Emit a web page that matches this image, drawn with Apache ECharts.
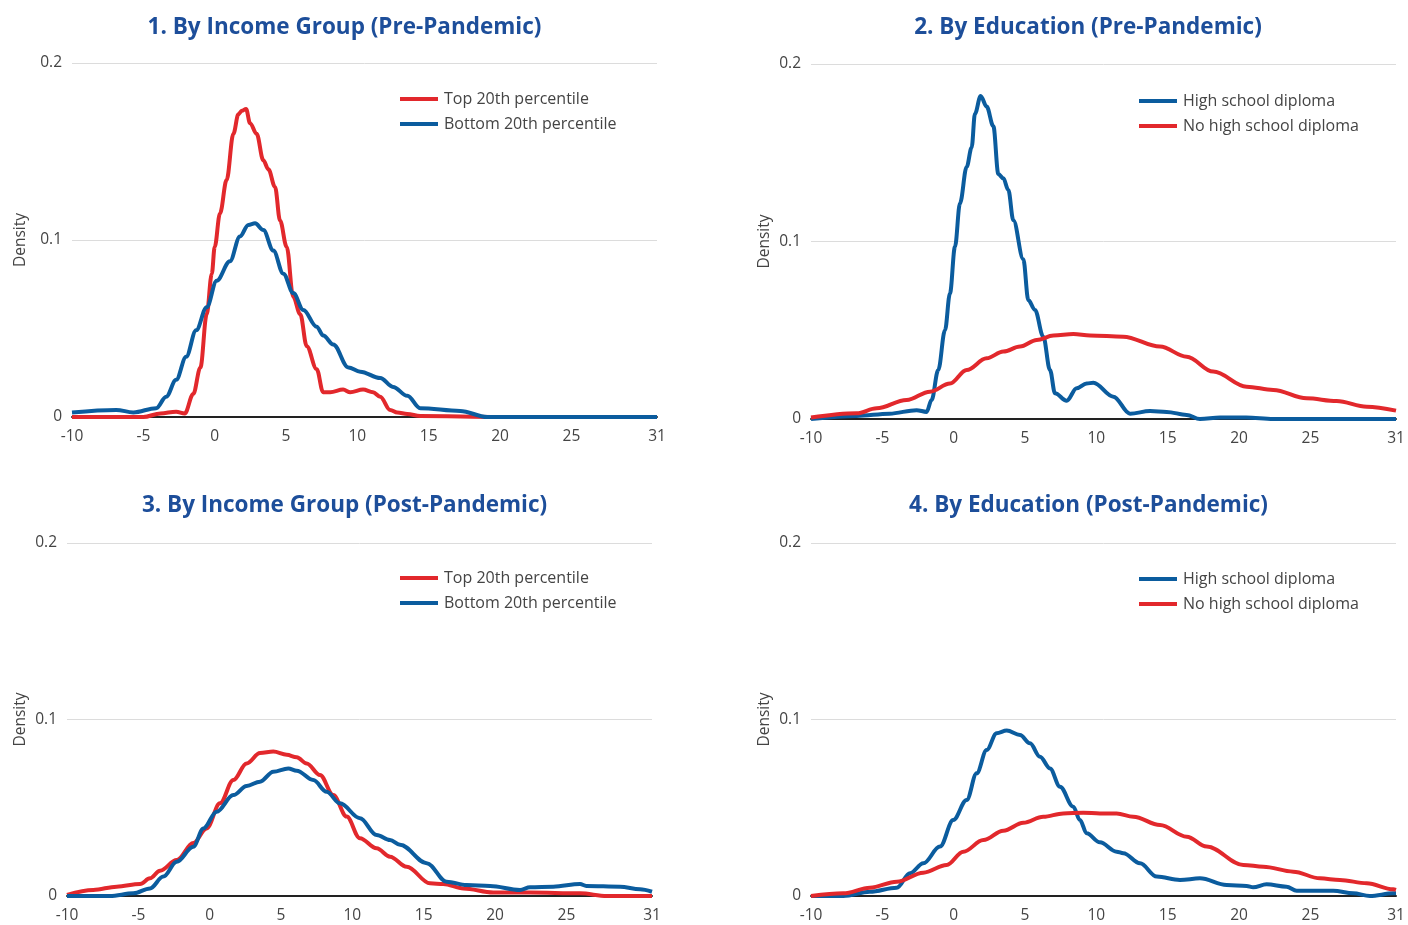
<!DOCTYPE html>
<html>
<head>
<meta charset="utf-8">
<script src="https://cdn.jsdelivr.net/npm/echarts@6/dist/echarts.min.js"></script>
<style>html,body{margin:0;padding:0;background:#fff;}#c{width:1408px;height:925px;}</style>
</head>
<body>
<div id="c"></div>
<script>
// ---------- DATA ----------
const titles = ['1. By Income Group (Pre-Pandemic)', '2. By Education (Pre-Pandemic)', '3. By Income Group (Post-Pandemic)', '4. By Education (Post-Pandemic)'];
const xTickLabels = [-10, -5, 0, 5, 10, 15, 20, 25, 31];
const yTicks = [0, 0.1, 0.2];
const incomeNames = ['Top 20th percentile', 'Bottom 20th percentile'];
const eduNames = ['High school diploma', 'No high school diploma'];

// Panel 1
const p1TopX = [-10, -5, -3.8, -2.7, -2.1, -1.5, -1.0, -0.56, -0.2, 0, 0.37, 0.84, 1.31, 1.66, 1.9, 2.2, 2.48, 2.94, 3.41, 3.76, 4.23, 4.58, 5.05, 5.5, 6.0, 6.45, 7.15, 7.6, 8.1, 9.0, 9.5, 10.4, 11.1, 11.6, 12.3, 12.8, 13.5, 14.4, 20, 31];
const p1TopY = [0, 0, 0.002, 0.003, 0.002, 0.013, 0.028, 0.058, 0.081, 0.096, 0.115, 0.134, 0.160, 0.171, 0.173, 0.174, 0.166, 0.160, 0.145, 0.140, 0.130, 0.111, 0.096, 0.068, 0.058, 0.040, 0.027, 0.014, 0.014, 0.0155, 0.014, 0.0155, 0.014, 0.0115, 0.004, 0.0025, 0.0017, 0.0005, 0, 0];
const p1BotX = [-10, -6.9, -5.7, -4.1, -3.4, -2.7, -2.0, -1.3, -0.56, 0.14, 1.07, 1.77, 2.36, 2.83, 3.41, 4.11, 4.81, 5.51, 6.21, 7.15, 7.61, 8.31, 9.37, 10.2, 11.6, 12.5, 13.5, 14.4, 17.2, 19.1, 20, 31];
const p1BotY = [0.0026, 0.004, 0.0026, 0.005, 0.0115, 0.021, 0.034, 0.049, 0.062, 0.077, 0.088, 0.102, 0.1085, 0.1094, 0.1056, 0.094, 0.081, 0.070, 0.0605, 0.051, 0.046, 0.041, 0.028, 0.0256, 0.022, 0.017, 0.012, 0.005, 0.0034, 0, 0, 0];

// Panel 2
const p2HsX = [-10, -6.8, -4.5, -2.6, -1.9, -1.55, -1.08, -0.61, -0.26, 0.09, 0.44, 0.91, 1.26, 1.49, 1.89, 2.31, 2.78, 3.13, 3.48, 3.83, 4.18, 4.88, 5.23, 5.7, 6.28, 6.75, 7.1, 7.92, 8.62, 9.32, 9.79, 11.19, 12.36, 13.76, 14.93, 16.33, 17.26, 18.67, 20.5, 22.4, 31];
const p2HsY = [0, 0.0017, 0.003, 0.005, 0.004, 0.0107, 0.0276, 0.050, 0.0708, 0.097, 0.1215, 0.142, 0.153, 0.172, 0.182, 0.176, 0.165, 0.138, 0.1356, 0.129, 0.112, 0.090, 0.067, 0.0614, 0.0464, 0.0276, 0.0145, 0.0103, 0.0173, 0.020, 0.0204, 0.0126, 0.003, 0.0045, 0.004, 0.0023, 0, 0.0008, 0.0008, 0, 0];
const p2NoX = [-10, -6.8, -5.4, -3.3, -1.66, -0.26, 0.91, 2.31, 3.48, 4.65, 5.82, 6.99, 8.39, 9.56, 11.88, 14.46, 16.33, 18.19, 20.53, 22.4, 24.74, 26.84, 28.95, 31];
const p2NoY = [0.0008, 0.0032, 0.006, 0.0107, 0.0154, 0.020, 0.0276, 0.0342, 0.038, 0.0408, 0.0445, 0.047, 0.0479, 0.047, 0.0464, 0.0408, 0.0351, 0.0267, 0.0182, 0.0164, 0.0117, 0.0101, 0.0069, 0.0047];

// Panel 3
const p3TopX = [-10, -8.16, -6.52, -4.88, -4.18, -3.48, -2.31, -1.15, -0.21, 0.72, 1.66, 2.59, 3.53, 4.46, 5.4, 6.1, 6.8, 7.73, 8.66, 9.6, 10.53, 11.7, 12.64, 13.81, 15.44, 16.37, 17.78, 19.88, 22.45, 25.96, 27.83, 31];
const p3TopY = [0.0006, 0.0034, 0.0053, 0.0068, 0.010, 0.0143, 0.0204, 0.030, 0.0383, 0.0525, 0.0657, 0.0751, 0.081, 0.0818, 0.080, 0.0786, 0.0751, 0.0686, 0.0572, 0.045, 0.0327, 0.027, 0.0223, 0.0166, 0.0072, 0.0068, 0.0043, 0.002, 0.002, 0.0015, 0, 0];
const p3BotX = [-10, -7, -5.35, -4.18, -3.25, -2.31, -1.15, -0.44, 0.49, 1.66, 2.59, 3.53, 4.46, 5.51, 6.1, 7.26, 8.2, 9.13, 10.53, 11.7, 12.64, 13.34, 15.21, 16.61, 18.01, 19.65, 21.75, 22.45, 24.08, 25.96, 26.4, 28.76, 30.16, 31];
const p3BotY = [0, 0, 0.0015, 0.0043, 0.011, 0.0194, 0.0279, 0.0383, 0.0478, 0.0572, 0.0623, 0.0648, 0.0704, 0.0723, 0.071, 0.0657, 0.059, 0.0525, 0.0441, 0.0346, 0.0317, 0.029, 0.0186, 0.0081, 0.0062, 0.0057, 0.0034, 0.0049, 0.0053, 0.0068, 0.0057, 0.0053, 0.0038, 0.0024];

// Panel 4
const p4HsX = [-10, -7.74, -5.87, -3.99, -3.06, -2.13, -0.96, -0.03, 0.91, 1.61, 2.31, 3.01, 3.72, 4.65, 5.35, 6.05, 6.75, 7.45, 8.38, 8.85, 9.32, 10.25, 11.42, 11.89, 13.06, 14.23, 15.86, 17.26, 19.13, 20.53, 20.99, 21.93, 23.33, 24.04, 26.6, 28.0, 29.17, 30.81, 31];
const p4HsY = [0, 0, 0.0024, 0.0047, 0.0129, 0.0185, 0.028, 0.043, 0.0544, 0.0695, 0.0827, 0.0922, 0.0937, 0.0912, 0.0865, 0.0789, 0.0723, 0.0619, 0.0506, 0.043, 0.0355, 0.0304, 0.0251, 0.0242, 0.0185, 0.011, 0.0091, 0.010, 0.0062, 0.0057, 0.0049, 0.0066, 0.0053, 0.003, 0.003, 0.0015, 0, 0.0015, 0.0015];
const p4NoX = [-10, -7.74, -5.87, -3.99, -2.13, -0.49, 0.68, 2.08, 3.48, 4.88, 6.28, 7.68, 9.08, 10.25, 11.42, 12.59, 14.46, 16.33, 17.73, 20.3, 21.7, 23.8, 25.67, 27.07, 28.95, 30.81, 31];
const p4NoY = [0, 0.0015, 0.0047, 0.0081, 0.0132, 0.0176, 0.0251, 0.0317, 0.037, 0.0415, 0.0449, 0.0468, 0.0472, 0.0468, 0.0468, 0.0449, 0.0402, 0.0336, 0.028, 0.0176, 0.0166, 0.0138, 0.010, 0.0091, 0.0072, 0.0038, 0.0035];

// ---------- STYLE / LAYOUT ----------
const RED = '#e2282c', BLUE = '#0b5c9e', TITLE = '#1d4e9a';
const FONT = '"Open Sans", Lato, sans-serif';
const grids = [
  {left: 72, top: 63, width: 585, height: 354},
  {left: 811, top: 64, width: 585, height: 355},
  {left: 67, top: 543, width: 585, height: 353},
  {left: 811, top: 543, width: 585, height: 353}
];
const titleCenters = [[339.5, 11], [1083, 11], [339.5, 489], [1083.5, 489]];
const legendPos = [[400, 89], [1139, 91], [400, 568], [1139, 569]];
const nameGaps = [43, 38, 38, 38];

function pairs(xs, ys) { return xs.map((x, i) => [x, ys[i]]); }

const panels = [
  [{name: incomeNames[0], x: p1TopX, y: p1TopY, c: RED}, {name: incomeNames[1], x: p1BotX, y: p1BotY, c: BLUE}],
  [{name: eduNames[0], x: p2HsX, y: p2HsY, c: BLUE}, {name: eduNames[1], x: p2NoX, y: p2NoY, c: RED}],
  [{name: incomeNames[0], x: p3TopX, y: p3TopY, c: RED}, {name: incomeNames[1], x: p3BotX, y: p3BotY, c: BLUE}],
  [{name: eduNames[0], x: p4HsX, y: p4HsY, c: BLUE}, {name: eduNames[1], x: p4NoX, y: p4NoY, c: RED}]
];

const option = {
  animation: false,
  backgroundColor: '#fff',
  textStyle: {fontFamily: FONT},
  title: titles.map((t, i) => ({
    text: t, left: titleCenters[i][0], top: titleCenters[i][1], textAlign: 'center',
    textStyle: {color: TITLE, fontSize: 22.5, fontWeight: 'bold', fontFamily: FONT}
  })),
  legend: panels.map((p, i) => ({
    orient: 'vertical', left: legendPos[i][0], top: legendPos[i][1], padding: 0,
    itemWidth: 38, itemHeight: 4, itemGap: 5, icon: 'rect',
    data: p.map(s => s.name),
    textStyle: {color: '#444', fontSize: 16, lineHeight: 20, fontFamily: FONT, padding: [0, 0, 0, 1]}
  })),
  grid: grids,
  xAxis: grids.map((g, i) => ({
    type: 'value', gridIndex: i, min: -10, max: 31,
    axisLine: {show: true, onZero: false, lineStyle: {color: '#222', width: 2}},
    axisTick: {show: false},
    splitLine: {show: false},
    axisLabel: {customValues: xTickLabels, color: '#444', fontSize: 15.5, margin: 12, fontFamily: FONT}
  })),
  yAxis: grids.map((g, i) => ({
    type: 'value', gridIndex: i, min: 0, max: 0.2, interval: 0.1,
    name: 'Density', nameLocation: 'middle', nameGap: nameGaps[i],
    nameTextStyle: {color: '#444', fontSize: 15.5, fontFamily: FONT},
    axisLine: {show: false}, axisTick: {show: false},
    axisLabel: {color: '#444', fontSize: 15.5, margin: 10, fontFamily: FONT, padding: [4, 0, 0, 0],
      formatter: v => String(yTicks.find(t => Math.abs(t - v) < 1e-9) ?? v)},
    splitLine: {show: true, lineStyle: {color: '#dcdcdc', width: 1}}
  })),
  series: panels.flatMap((p, i) => p.map(s => ({
    type: 'line', name: s.name, xAxisIndex: i, yAxisIndex: i,
    data: pairs(s.x, s.y), showSymbol: false, symbol: 'none',
    smooth: 0.35, smoothMonotone: 'x',
    color: s.c, lineStyle: {color: s.c, width: 4}, z: 3
  })))
};

const chart = echarts.init(document.getElementById('c'), null, {renderer: 'canvas'});
chart.setOption(option);
</script>
</body>
</html>
